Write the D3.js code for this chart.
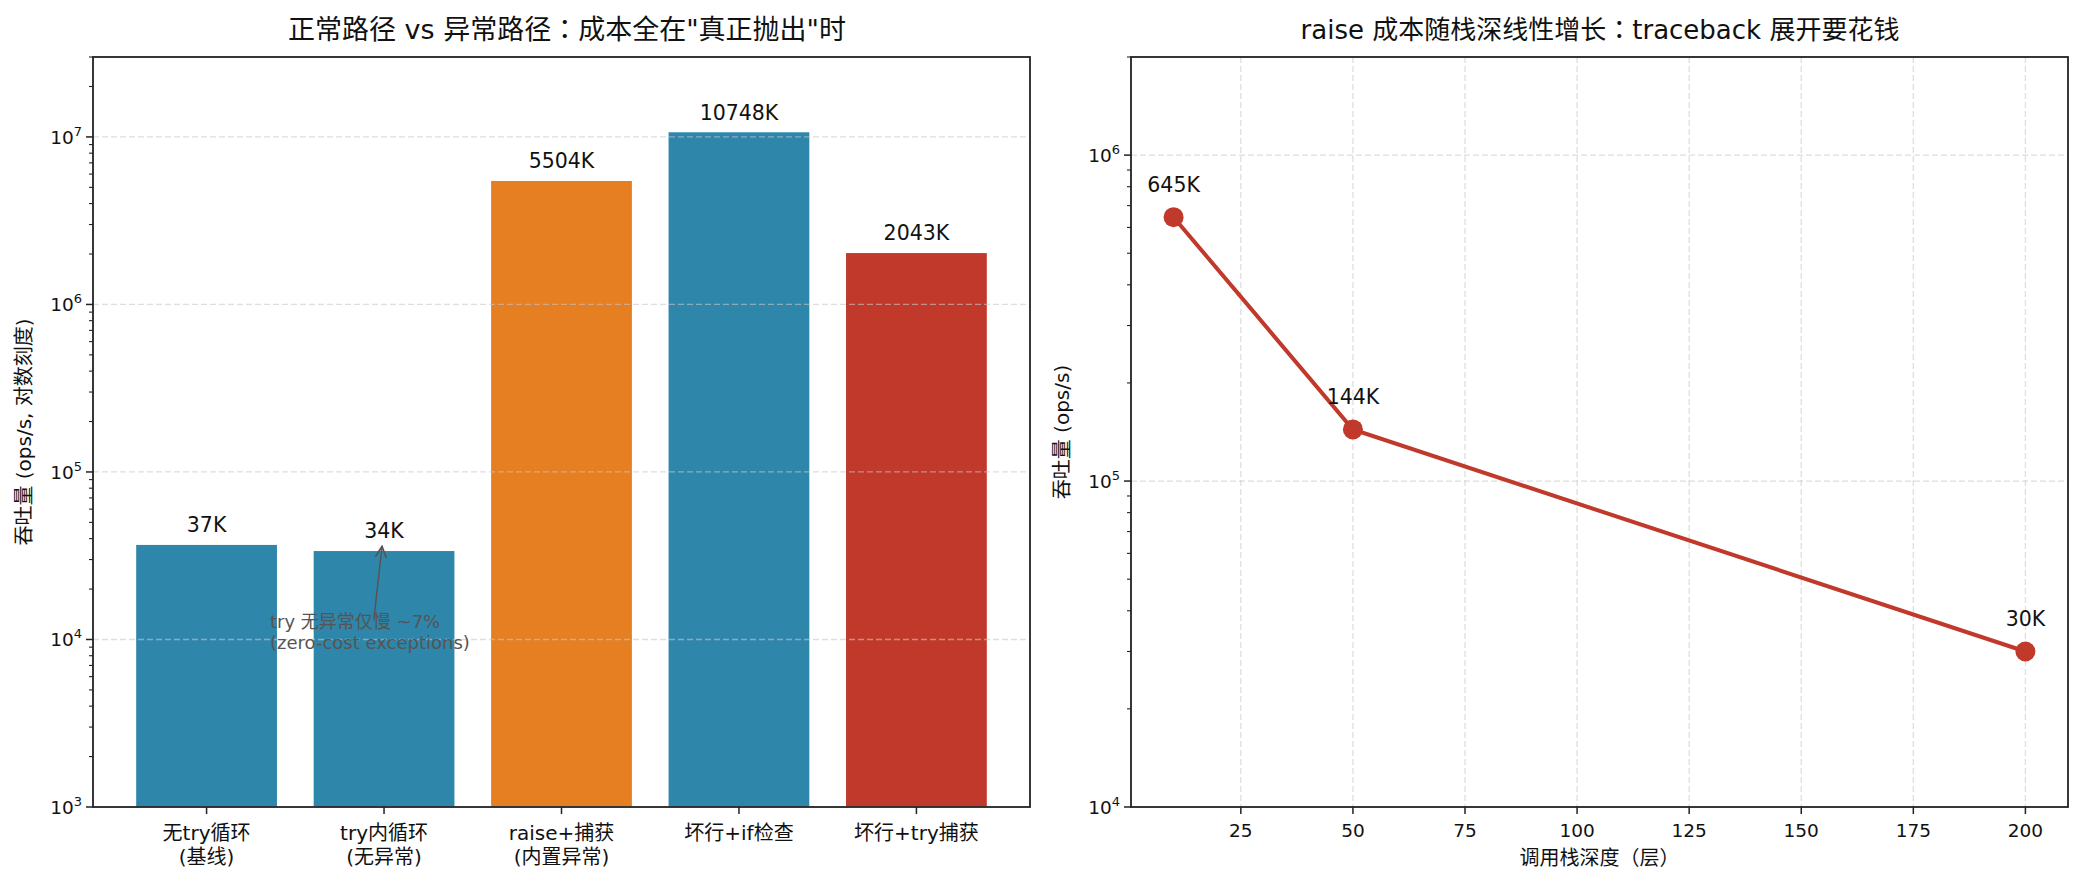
<!DOCTYPE html>
<html><head><meta charset="utf-8">
<script src="https://cdn.jsdelivr.net/npm/d3@7"></script>
<style>
html,body{margin:0;padding:0;background:#fff;}
text{font-family:"DejaVu Sans","Noto Sans CJK SC",sans-serif;fill:#111;}
.colon{font-family:"Noto Sans CJK JP","Noto Sans CJK TC",sans-serif;}
</style></head>
<body>
<svg id="c" width="2083" height="884"></svg>
<script>
// ---- data ----
const barCategories = ["无try循环\n(基线)", "try内循环\n(无异常)", "raise+捕获\n(内置异常)", "坏行+if检查", "坏行+try捕获"];
const barValues = [37000, 34000, 5504000, 10748000, 2043000];
const barLabels = ["37K", "34K", "5504K", "10748K", "2043K"];
const barColors = ["#2E86AB", "#2E86AB", "#E67E22", "#2E86AB", "#C0392B"];
const leftYTicks = [1e3, 1e4, 1e5, 1e6, 1e7];
const depths = [10, 50, 200];
const depthValues = [645000, 144000, 30000];
const depthLabels = ["645K", "144K", "30K"];
const depthXTicks = [25, 50, 75, 100, 125, 150, 175, 200];
const rightYTicks = [1e4, 1e5, 1e6];
const titles = ["正常路径 vs 异常路径：成本全在\"真正抛出\"时", "raise 成本随栈深线性增长：traceback 展开要花钱"];

const svg = d3.select("#c");
function powLabel(sel, v){
  const e = Math.round(Math.log10(v));
  sel.text(null);
  sel.append("tspan").text("10");
  sel.append("tspan").attr("dy", -8).attr("font-size", "13px").text(String(e));
}
function titleText(sel, s){
  s.split("：").forEach((p,i)=>{
    if(i>0) sel.append("tspan").attr("class","colon").text("：");
    sel.append("tspan").text(p);
  });
}
function minorTicks(domain){
  const out=[];
  const lo=Math.floor(Math.log10(domain[0])), hi=Math.ceil(Math.log10(domain[1]));
  for(let e=lo;e<=hi;e++) for(let k=2;k<=9;k++){const v=k*Math.pow(10,e); if(v>=domain[0]&&v<=domain[1]) out.push(v);}
  return out;
}
const gridStyle = g => g.attr("stroke","#c8c8c8").attr("stroke-opacity",0.6).attr("stroke-width",1.3).attr("stroke-dasharray","6,3");

// ---- LEFT ----
const L = {x0:93, x1:1030, y0:57, y1:807};
const xL = d3.scaleLinear().domain([-0.64, 4.64]).range([L.x0, L.x1]);
const yLdom = [1e3, 3e7];
const yL = d3.scaleLog().domain(yLdom).range([L.y1, L.y0]);
const gL = svg.append("g");
gL.selectAll("rect.bar").data(barValues).join("rect")
  .attr("x", (d,i)=>xL(i-0.4)).attr("width", xL(0.8)-xL(0))
  .attr("y", d=>yL(d)).attr("height", d=>L.y1-yL(d))
  .attr("fill", (d,i)=>barColors[i]).attr("stroke","#fff").attr("stroke-width",1.2);
gL.selectAll("line.grid").data(leftYTicks.filter(v=>v>yLdom[0])).join("line")
  .attr("x1",L.x0).attr("x2",L.x1).attr("y1",d=>yL(d)).attr("y2",d=>yL(d)).call(gridStyle);
gL.selectAll("text.val").data(barValues).join("text")
  .attr("x",(d,i)=>xL(i)).attr("y",d=>yL(d)-12).attr("text-anchor","middle")
  .attr("font-size","20.5px").text((d,i)=>barLabels[i]);
// annotation
const annX = xL(1), annTip = yL(barValues[1]);
svg.append("defs").append("marker").attr("id","ah").attr("viewBox","0 0 10 10").attr("refX",9).attr("refY",5)
  .attr("markerWidth",9).attr("markerHeight",9).attr("orient","auto-start-reverse")
  .append("path").attr("d","M1,1 L9,5 L1,9").attr("fill","none").attr("stroke","#555").attr("stroke-width",1.3);
gL.append("line").attr("x1",annX-10).attr("y1",yL(13500)).attr("x2",annX-2).attr("y2",annTip-4)
  .attr("stroke","#555").attr("stroke-width",1.5).attr("marker-end","url(#ah)");
const ann = gL.append("text").attr("x",270).attr("y",628).attr("font-size","18px").style("fill","#555");
ann.append("tspan").attr("x",270).text("try 无异常仅慢 ~7%");
ann.append("tspan").attr("x",270).attr("dy",21).text("(zero-cost exceptions)");
// axes
const axL = gL.append("g");
axL.append("rect").attr("x",L.x0).attr("y",L.y0).attr("width",L.x1-L.x0).attr("height",L.y1-L.y0)
  .attr("fill","none").attr("stroke","#222").attr("stroke-width",1.8);
axL.selectAll("line.ytm").data(leftYTicks).join("line").attr("x1",L.x0-7).attr("x2",L.x0).attr("y1",d=>yL(d)).attr("y2",d=>yL(d)).attr("stroke","#222").attr("stroke-width",1.5);
axL.selectAll("line.ytn").data(minorTicks(yLdom)).join("line").attr("x1",L.x0-4).attr("x2",L.x0).attr("y1",d=>yL(d)).attr("y2",d=>yL(d)).attr("stroke","#222").attr("stroke-width",1.1);
axL.selectAll("text.yt").data(leftYTicks).join("text").attr("x",L.x0-11).attr("y",d=>yL(d)+7)
  .attr("text-anchor","end").attr("font-size","18.5px").each(function(d){powLabel(d3.select(this),d);});
axL.selectAll("line.xt").data(barCategories).join("line").attr("x1",(d,i)=>xL(i)).attr("x2",(d,i)=>xL(i)).attr("y1",L.y1).attr("y2",L.y1+7).attr("stroke","#222").attr("stroke-width",1.5);
axL.selectAll("text.xt").data(barCategories).join("text").attr("text-anchor","middle").attr("font-size","20px")
  .each(function(d,i){
    const t=d3.select(this); const parts=d.split("\n");
    parts.forEach((p,j)=>t.append("tspan").attr("x",xL(i)).attr("y",840+j*24).text(p));
  });
svg.append("text").attr("transform",`translate(31,${(L.y0+L.y1)/2}) rotate(-90)`).attr("text-anchor","middle")
  .attr("font-size","20px").text("吞吐量 (ops/s, 对数刻度)");
svg.append("text").attr("x",567).attr("y",39).attr("text-anchor","middle").attr("font-size","27px").call(titleText, titles[0]);

// ---- RIGHT ----
const R = {x0:1131, x1:2068, y0:57, y1:807};
const xR = d3.scaleLinear().domain([0.5, 209.5]).range([R.x0, R.x1]);
const yRdom = [1e4, 2e6];
const yR = d3.scaleLog().domain(yRdom).range([R.y1, R.y0]);
const gR = svg.append("g");
gR.selectAll("line.gx").data(depthXTicks).join("line").attr("x1",d=>xR(d)).attr("x2",d=>xR(d)).attr("y1",R.y0).attr("y2",R.y1).call(gridStyle);
gR.selectAll("line.gy").data(rightYTicks.filter(v=>v>yRdom[0])).join("line").attr("x1",R.x0).attr("x2",R.x1).attr("y1",d=>yR(d)).attr("y2",d=>yR(d)).call(gridStyle);
const pts = depths.map((d,i)=>[d, depthValues[i]]);
gR.append("path").datum(pts).attr("d", d3.line().x(d=>xR(d[0])).y(d=>yR(d[1])))
  .attr("fill","none").attr("stroke","#C0392B").attr("stroke-width",4);
gR.selectAll("circle").data(pts).join("circle").attr("cx",d=>xR(d[0])).attr("cy",d=>yR(d[1])).attr("r",10).attr("fill","#C0392B");
gR.selectAll("text.val").data(pts).join("text").attr("x",d=>xR(d[0])).attr("y",d=>yR(d[1])-25).attr("text-anchor","middle")
  .attr("font-size","20.5px").text((d,i)=>depthLabels[i]);
const axR = gR.append("g");
axR.append("rect").attr("x",R.x0).attr("y",R.y0).attr("width",R.x1-R.x0).attr("height",R.y1-R.y0)
  .attr("fill","none").attr("stroke","#222").attr("stroke-width",1.8);
axR.selectAll("line.ytm").data(rightYTicks).join("line").attr("x1",R.x0-7).attr("x2",R.x0).attr("y1",d=>yR(d)).attr("y2",d=>yR(d)).attr("stroke","#222").attr("stroke-width",1.5);
axR.selectAll("line.ytn").data(minorTicks(yRdom)).join("line").attr("x1",R.x0-4).attr("x2",R.x0).attr("y1",d=>yR(d)).attr("y2",d=>yR(d)).attr("stroke","#222").attr("stroke-width",1.1);
axR.selectAll("text.yt").data(rightYTicks).join("text").attr("x",R.x0-11).attr("y",d=>yR(d)+7)
  .attr("text-anchor","end").attr("font-size","18.5px").each(function(d){powLabel(d3.select(this),d);});
axR.selectAll("line.xt").data(depthXTicks).join("line").attr("x1",d=>xR(d)).attr("x2",d=>xR(d)).attr("y1",R.y1).attr("y2",R.y1+7).attr("stroke","#222").attr("stroke-width",1.5);
axR.selectAll("text.xt").data(depthXTicks).join("text").attr("x",d=>xR(d)).attr("y",837).attr("text-anchor","middle").attr("font-size","18.5px").text(d=>d);
svg.append("text").attr("x",(R.x0+R.x1)/2).attr("y",865).attr("text-anchor","middle").attr("font-size","20px").text("调用栈深度（层）");
svg.append("text").attr("transform",`translate(1069,${(R.y0+R.y1)/2}) rotate(-90)`).attr("text-anchor","middle")
  .attr("font-size","20px").text("吞吐量 (ops/s)");
svg.append("text").attr("x",1600).attr("y",39).attr("text-anchor","middle").attr("font-size","26px").call(titleText, titles[1]);
</script>
</body></html>
